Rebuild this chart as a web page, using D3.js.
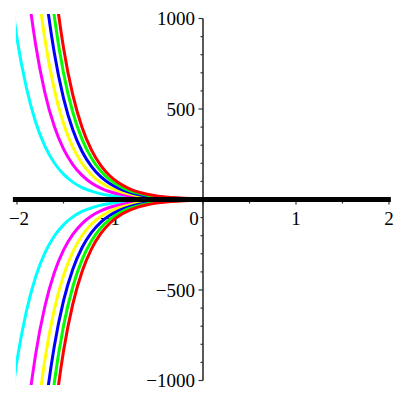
<!DOCTYPE html>
<html>
<head>
<meta charset="utf-8">
<script src="https://cdn.jsdelivr.net/npm/d3@7"></script>
<style>
  body { margin: 0; background: #fff; }
  svg { display: block; }
  text { font-family: "Liberation Serif", "Times New Roman", serif; font-size: 19px; fill: #000; }
</style>
</head>
<body>
<svg width="400" height="400"></svg>
<script>
// sample x positions (only the left half shows anything, right half sits on zero)
var xs = [-2.1, -2.0, -1.9, -1.8, -1.7, -1.6, -1.5, -1.4, -1.3, -1.2, -1.1, -1.0,
          -0.9, -0.8, -0.7, -0.6, -0.5, -0.4, -0.3, -0.2, 0, 1, 2];

var cyan    = [1280, 890, 620, 428, 295, 203, 140, 96, 66, 46, 31, 22, 15, 10, 7, 5, 3.4, 2.3, 1.6, 1.1, 0.5, 0, 0];
var magenta = [2623, 1806, 1244, 857, 590, 406, 280, 193, 133, 91, 63, 43, 30, 21, 14, 10, 6.7, 4.6, 3.2, 2.2, 1, 0, 0];
var yellow  = [3934, 2710, 1866, 1285, 885, 610, 420, 289, 199, 137, 94, 65, 45, 31, 21, 15, 10, 7, 4.8, 3.3, 1.6, 0, 0];
var blue    = [5246, 3613, 2488, 1714, 1179, 813, 560, 385, 265, 183, 126, 87, 60, 41, 28, 19.5, 13.4, 9.3, 6.4, 4.4, 2.1, 0, 0];
var green   = [6557, 4516, 3110, 2142, 1474, 1016, 699, 482, 332, 229, 157, 108, 75, 51, 35, 24, 17, 11.6, 8, 5.5, 2.6, 0, 0];
var red     = [7869, 5419, 3732, 2571, 1769, 1219, 839, 578, 398, 274, 189, 130, 90, 62, 42, 29, 20, 14, 9.5, 6.6, 3.1, 0, 0];

var xTicks = [-2, -1, 0, 1, 2];
var xMinor = [-1.5, -0.5, 0.5, 1.5];
var yTicks = [-1000, -500, 500, 1000];
var yLabels = ["\u22121000", "\u2212500", "500", "1000"];
var xLabels = ["\u22122", "\u22121", "0", "1", "2"];

var series = [
    {color: "#00ffff", v: cyan},
    {color: "#ff00ff", v: magenta},
    {color: "#ffff00", v: yellow},
    {color: "#0000ff", v: blue},
    {color: "#00ff00", v: green},
    {color: "#ff0000", v: red}
];

var svg = d3.select("svg");

var x = d3.scaleLinear()
    .domain([-2, 2])
    .range([17, 389]);

var y = d3.scaleLinear()
    .domain([-1000, 1000])
    .range([380.5, 18.5]);

var xMin = -2.012, xMax = 2.02, yLim = 1025;

svg.append("clipPath")
    .attr("id", "clip")
    .append("rect")
    .attr("x", x(xMin))
    .attr("y", y(yLim))
    .attr("width", x(xMax) - x(xMin))
    .attr("height", y(-yLim) - y(yLim));

// y axis
var ya = svg.append("g");
ya.append("line")
    .attr("x1", x(0)).attr("x2", x(0))
    .attr("y1", y(-1000)).attr("y2", y(1000))
    .attr("stroke", "#000")
    .attr("stroke-width", 1.3);

ya.selectAll(".minor")
    .data(d3.range(-1000, 1001, 100))
    .enter().append("line")
    .attr("x1", x(0)).attr("x2", function (d) {
        return x(0) - (d % 500 == 0 ? 4.5 : 2.5);
    })
    .attr("y1", function (d) { return y(d); })
    .attr("y2", function (d) { return y(d); })
    .attr("stroke", "#333")
    .attr("stroke-width", 1.2);

ya.selectAll("text")
    .data(yTicks)
    .enter().append("text")
    .attr("x", x(0) - 8)
    .attr("y", function (d) { return y(d); })
    .attr("dy", "0.35em")
    .attr("text-anchor", "end")
    .text(function (d, i) { return yLabels[i]; });

// x axis ticks (line itself hides under the zero solution)
var xa = svg.append("g");
xa.selectAll(".tick")
    .data(xTicks.concat(xMinor))
    .enter().append("line")
    .attr("x1", function (d) { return x(d); })
    .attr("x2", function (d) { return x(d); })
    .attr("y1", y(0))
    .attr("y2", function (d) {
        return y(0) + (xTicks.indexOf(d) >= 0 ? 5 : 4);
    })
    .attr("stroke", "#333")
    .attr("stroke-width", 1.2);

xa.selectAll("text")
    .data(xTicks)
    .enter().append("text")
    .attr("x", function (d) {
        if (d == 0) return x(d) - 9;
        if (d == -2) return x(d) + 2;
        return x(d);
    })
    .attr("y", y(0) + 25.5)
    .attr("text-anchor", "middle")
    .text(function (d, i) { return xLabels[i]; });

// curves
var line = d3.line()
    .x(function (d) { return x(d[0]); })
    .y(function (d) { return y(d[1]); })
    .curve(d3.curveMonotoneX);

var curves = svg.append("g").attr("clip-path", "url(#clip)");

[1, -1].forEach(function (s) {
    series.forEach(function (ser) {
        curves.append("path")
            .datum(xs.map(function (xv, i) { return [xv, s * ser.v[i]]; }))
            .attr("fill", "none")
            .attr("stroke", ser.color)
            .attr("stroke-width", 3)
            .attr("d", line);
    });
});

// zero solution
svg.append("line")
    .attr("x1", x(xMin) - 3).attr("x2", x(xMax))
    .attr("y1", y(0)).attr("y2", y(0))
    .attr("stroke", "#000")
    .attr("stroke-width", 5);
</script>
</body>
</html>
